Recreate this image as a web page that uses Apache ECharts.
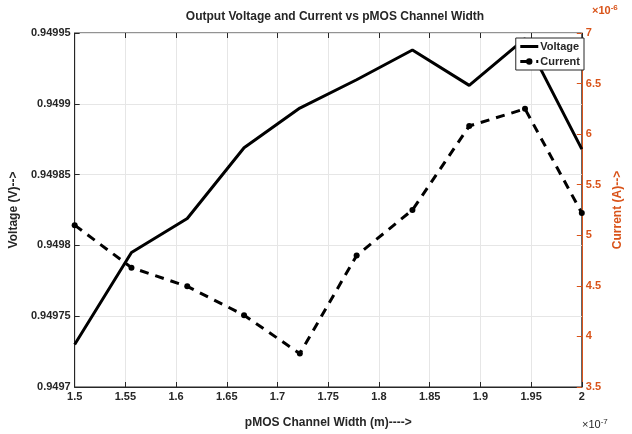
<!DOCTYPE html>
<html>
<head>
<meta charset="utf-8">
<script src="https://cdn.jsdelivr.net/npm/echarts@6/dist/echarts.min.js"></script>
<style>
  html, body { margin: 0; padding: 0; background: #ffffff; }
  #chart { width: 632px; height: 434px; }
</style>
</head>
<body>
<div id="chart"></div>
<script>
// largeur du canal (x 1e-7 m)
const widths = [1.5, 1.556, 1.611, 1.667, 1.722, 1.778, 1.833, 1.889, 1.944, 2.0];
// tension de sortie (V)
const voltage = [0.94973, 0.949795, 0.949819, 0.949869, 0.949897, 0.949917, 0.949938, 0.949913, 0.949946, 0.949868];
// courant (x 1e-6 A)
const current = [5.1, 4.68, 4.495, 4.21, 3.83, 4.8, 5.25, 6.08, 6.25, 5.22];

const orange = "#d95319";
const dark = "#262626";
const font = "Liberation Sans, Arial, sans-serif";

const clean = (v, d) => parseFloat(v.toFixed(d)).toString();

const chart = echarts.init(document.getElementById("chart"));

const option = {
  backgroundColor: "#ffffff",
  animation: false,
  textStyle: { fontFamily: font },
  title: {
    text: "Output Voltage and Current vs pMOS Channel Width",
    left: 330,
    textAlign: "center",
    top: 6,
    textStyle: { fontSize: 12, fontWeight: "bold", color: dark, fontFamily: font },
  },
  legend: {
    orient: "vertical",
    right: 48,
    top: 38,
    backgroundColor: "#ffffff",
    borderColor: dark,
    borderWidth: 1,
    borderRadius: 0,
    padding: [3, 4, 3, 3],
    itemGap: 4,
    itemWidth: 18,
    itemHeight: 8,
    textStyle: { fontSize: 11, fontWeight: "bold", color: dark, padding: [0, 0, 0, -3] },
    data: [
      { name: "Voltage", itemStyle: { opacity: 0 }, lineStyle: { width: 3 } },
      { name: "Current", lineStyle: { width: 3 } },
    ],
  },
  grid: {
    left: 70,
    right: 41,
    top: 33,
    bottom: 45,
    show: true,
    borderColor: dark,
    borderWidth: 1,
  },
  xAxis: [
    {
      type: "value",
      min: 1.5,
      max: 2,
      interval: 0.05,
      name: "pMOS Channel Width (m)---->",
      nameLocation: "middle",
      nameGap: 30,
      nameTextStyle: { fontSize: 12, fontWeight: "bold", color: dark },
      axisLine: { lineStyle: { color: dark } },
      axisTick: { inside: true, length: 5, lineStyle: { color: dark } },
      axisLabel: {
        fontSize: 11,
        fontWeight: "bold",
        color: dark,
        margin: 4,
        formatter: (v) => clean(v, 2),
      },
      splitLine: { show: true, lineStyle: { color: "#e6e6e6" } },
    },
    {
      type: "value",
      position: "top",
      min: 1.5,
      max: 2,
      interval: 0.05,
      axisLine: { show: false },
      axisTick: { inside: true, length: 5, lineStyle: { color: dark } },
      axisLabel: { show: false },
      splitLine: { show: false },
    },
  ],
  yAxis: [
    {
      type: "value",
      min: 0.9497,
      max: 0.94995,
      interval: 0.00005,
      name: "Voltage (V)-->",
      nameLocation: "middle",
      nameGap: 54,
      nameTextStyle: { fontSize: 12, fontWeight: "bold", color: dark },
      axisLine: { show: true, lineStyle: { color: dark } },
      axisTick: { show: true, inside: true, length: 5, lineStyle: { color: dark } },
      axisLabel: {
        fontSize: 11,
        fontWeight: "bold",
        color: dark,
        margin: 4,
        formatter: (v) => clean(v, 6),
      },
      splitLine: { show: true, lineStyle: { color: "#e6e6e6" } },
    },
    {
      type: "value",
      position: "right",
      min: 3.5,
      max: 7,
      interval: 0.5,
      name: "Current (A)-->",
      nameLocation: "middle",
      nameGap: 28,
      nameRotate: 90,
      nameTextStyle: { fontSize: 12, fontWeight: "bold", color: orange },
      axisLine: { show: true, lineStyle: { color: orange } },
      axisTick: { show: true, inside: true, length: 5, lineStyle: { color: orange } },
      axisLabel: {
        fontSize: 11,
        fontWeight: "bold",
        color: orange,
        margin: 4,
        formatter: (v) => clean(v, 1),
      },
      splitLine: { show: false },
    },
  ],
  graphic: [
    {
      type: "text",
      left: 592,
      top: 4,
      style: {
        text: "×10{s|-6}",
        fill: orange,
        font: "bold 11px " + font,
        rich: { s: { fontSize: 8, fontWeight: "bold", fill: orange, padding: [0, 0, 6, 0] } },
      },
    },
    {
      type: "text",
      left: 582,
      top: 418,
      style: {
        text: "×10{s|-7}",
        fill: dark,
        font: "11px " + font,
        rich: { s: { fontSize: 8, fill: dark, padding: [0, 0, 6, 0] } },
      },
    },
  ],
  series: [
    {
      name: "Voltage",
      type: "line",
      xAxisIndex: 0,
      yAxisIndex: 0,
      data: widths.map((w, i) => [w, voltage[i]]),
      symbol: "none",
      lineStyle: { color: "#000000", width: 3 },
      itemStyle: { color: "#000000" },
      z: 3,
    },
    {
      name: "Current",
      type: "line",
      xAxisIndex: 0,
      yAxisIndex: 1,
      data: widths.map((w, i) => [w, current[i]]),
      symbol: "circle",
      symbolSize: 6,
      lineStyle: { color: "#000000", width: 3, type: [9, 7] },
      itemStyle: { color: "#000000" },
      z: 2,
    },
  ],
};

chart.setOption(option);
</script>
</body>
</html>
